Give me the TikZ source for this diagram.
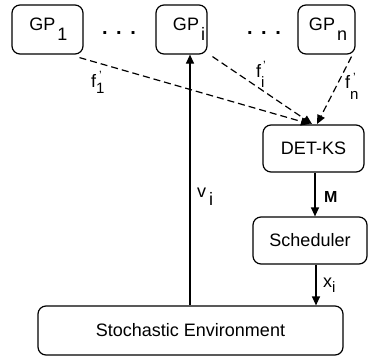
\documentclass[tikz,border=0pt]{standalone}
\usepackage{fontspec}
\setmainfont{Liberation Sans}
\usetikzlibrary{arrows.meta,calc}
\begin{document}
\begin{tikzpicture}[x=1pt,y=-1pt,
 box/.style={draw,line width=1.2pt,rounded corners=8pt,inner sep=0pt,font=\fontsize{18}{20}\selectfont},
 gpbox/.style={box,minimum height=49pt,font=\fontsize{18}{20}\selectfont},
 ar/.style={line width=1.2pt,-{Triangle[length=9pt,width=8pt]}},
 da/.style={ar,dash pattern=on 7pt off 4pt},
 lbl/.style={inner sep=0pt,anchor=base west,font=\fontsize{18}{20}\selectfont},
 dots/.style={inner sep=0pt,anchor=center,font=\fontsize{20}{20}\selectfont\bfseries}]
\useasboundingbox (0,0) rectangle (369,356);
\node[gpbox,minimum width=71pt] (gp1) at (47.5,29.5) {\hspace{2pt}GP\kern2pt\raisebox{-10pt}{1}};
\node[gpbox,minimum width=51pt] (gpi) at (181.5,29.5) {\hspace{15pt}GP\kern2pt\raisebox{-10pt}{i}};
\node[gpbox,minimum width=57pt] (gpn) at (326.5,29.5) {\hspace{3pt}GP\kern2pt\raisebox{-10pt}{n}};
\node[dots] (d1) at (119,33) {.\hspace{8.5pt}.\hspace{8.5pt}.};
\node[dots] (d2) at (264,33) {.\hspace{8.5pt}.\hspace{8.5pt}.};
\node[box,minimum width=101pt,minimum height=47pt] (det) at (313.5,148.5) {DET-KS};
\node[box,minimum width=114pt,minimum height=47pt] (sch) at (310,240.5) {Scheduler};
\node[box,minimum width=305pt,minimum height=49pt] (env) at (190.5,330.5) {Stochastic Environment};
\coordinate (t1) at (310,124);
\coordinate (t2) at (312,124);
\coordinate (t3) at (317,124);
\draw[da] ($(gp1.south)+(32,3)$) -- (t1);
\draw[da] ($(gpi.south)+(31,2)$) -- (t2);
\draw[da] ($(gpn.south)+(25,2)$) -- (t3);
\draw[ar] (env.north -| 190,0) -- (gpi.south -| 190,0);
\draw[ar] (det.south -| 315,0) -- (sch.north -| 315,0);
\draw[ar] (sch.south -| 316,0) -- (env.north -| 316,0);
\node[lbl] (lf1) at (91,87) {f\rlap{\raisebox{8pt}{\kern3pt\fontsize{12}{12}\selectfont '}}\raisebox{-6pt}{\fontsize{15}{15}\selectfont 1}};
\node[lbl] (lfi) at (256,77) {f\rlap{\raisebox{8pt}{\kern2pt\fontsize{12}{12}\selectfont '}}\raisebox{-10pt}{\fontsize{15}{15}\selectfont i}};
\node[lbl] (lfn) at (345,88) {f\rlap{\raisebox{7pt}{\kern3pt\fontsize{12}{12}\selectfont '}}\raisebox{-11pt}{\fontsize{15}{15}\selectfont n}};
\node[lbl] (lv) at (197,197) {v\kern3pt\raisebox{-8pt}{i}};
\node[lbl,font=\fontsize{16}{16}\selectfont\bfseries] (lm) at (324,202) {M};
\node[lbl] (lx) at (323,287) {x\raisebox{-5pt}{\fontsize{15}{15}\selectfont i}};
\end{tikzpicture}
\end{document}
